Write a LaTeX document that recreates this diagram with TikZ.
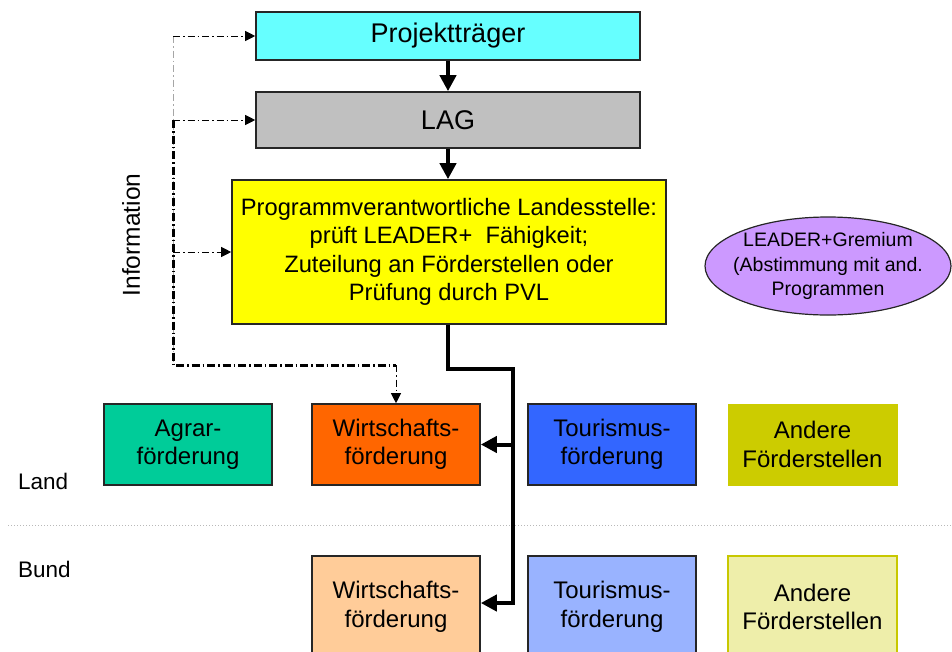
\documentclass[tikz,border=0pt]{standalone}
\usepackage{fontspec}
\setmainfont{Liberation Sans}
\usetikzlibrary{arrows.meta,shapes.geometric}
\definecolor{cProj}{HTML}{66FFFF}
\definecolor{cLag}{HTML}{C0C0C0}
\definecolor{cPvl}{HTML}{FFFF00}
\definecolor{cEll}{HTML}{CC99FF}
\definecolor{cAgrar}{HTML}{00CC99}
\definecolor{cWirt}{HTML}{FF6600}
\definecolor{cTour}{HTML}{3366FF}
\definecolor{cAnd}{HTML}{CCCC00}
\definecolor{cWirtB}{HTML}{FFCC99}
\definecolor{cTourB}{HTML}{99B3FF}
\definecolor{cAndB}{HTML}{EEEEAA}
\definecolor{cAndBd}{HTML}{C8C800}
\tikzset{
  boxtext/.style={font=\fontsize{24}{28.5}\selectfont, align=center, text=black},
  bigtext/.style={font=\fontsize{27}{30}\selectfont},
  box/.style={boxtext, draw=black!85, line width=1.6pt, rectangle, inner sep=0pt},
  lbl/.style={font=\fontsize{22.5}{26}\selectfont, text=black, inner sep=0pt},
  thickarrow/.style={line width=4pt, -{Triangle[length=16pt,width=16pt]}},
  thickline/.style={line width=4pt},
  infoarrow/.style={black, line width=0.9pt, dash pattern=on 7pt off 3pt on 1.5pt off 3pt, -{Triangle[length=10pt,width=10pt]}},
  infothin/.style={gray!70, line width=0.9pt, dash pattern=on 7pt off 3pt on 1.5pt off 3pt},
  infothick/.style={black, line width=3pt, dash pattern=on 8pt off 3pt on 1.5pt off 3pt},
}
\begin{document}
\begin{tikzpicture}[x=1pt,y=-1pt]
\useasboundingbox (0,0) rectangle (952,651);
\clip (0,0) rectangle (952,651);

% top chain
\node[box, bigtext, fill=cProj, minimum width=384pt, minimum height=48pt] (proj) at (448,36) {Projektträger};
\node[box, bigtext, fill=cLag, minimum width=384pt, minimum height=56pt] (lag) at (448,120) {LAG};
\node[box, font=\fontsize{23.7}{28.5}\selectfont, fill=cPvl, minimum width=434pt, minimum height=144pt] (pvl) at (449,252)
  {Programmverantwortliche Landesstelle:\\prüft LEADER+\ \ Fähigkeit;\\Zuteilung an Förderstellen oder\\Prüfung durch PVL};

% ellipse
\node[ellipse, draw=black!85, line width=1.2pt, fill=cEll, minimum width=246pt, minimum height=98pt, inner sep=0pt] (ell) at (828,266) {};
\node[align=center, font=\fontsize{19.5}{24.5}\selectfont, inner sep=0pt] (elltext) at (ell.center)
  {LEADER+Gremium\\(Abstimmung mit and.\\Programmen};

% Land row
\node[box, fill=cAgrar, minimum width=168pt, minimum height=81pt] (agrar) at (188,444.5) {Agrar-\\förderung};
\node[box, fill=cWirt, minimum width=168pt, minimum height=81pt] (wirt) at (396,444.5) {Wirtschafts-\\förderung};
\node[box, fill=cTour, minimum width=168pt, minimum height=81pt] (tour) at (612,444.5) {Tourismus-\\förderung};
\node[box, draw=cAnd, fill=cAnd, line width=0.8pt, minimum width=169pt, minimum height=81pt] (and) at (812.5,444.5) {Andere\\Förderstellen};

% Bund row
\node[box, fill=cWirtB, minimum width=168pt, minimum height=102pt] (wirtB) at (396,607) {Wirtschafts-\\förderung};
\node[box, fill=cTourB, minimum width=168pt, minimum height=102pt] (tourB) at (612,607) {Tourismus-\\förderung};
\node[box, draw=cAndBd, fill=cAndB, minimum width=169pt, minimum height=102pt] (andB) at (812.5,607) {Andere\\Förderstellen};

% labels
\node[lbl, anchor=west] (land) at (18,481) {Land};
\node[lbl, anchor=west] (bund) at (18,569) {Bund};
\node[lbl, font=\fontsize{24.5}{28}\selectfont, rotate=90] (info) at (131,235) {Information};

% separator
\draw[gray!55, line width=1pt, dotted] (8,525) -- (952,525);

% thick flow
\draw[thickarrow] (proj.south) -- (lag.north);
\draw[thickarrow] (lag.south) -- (pvl.north -| lag.south);
\coordinate (t1) at (448,369);
\coordinate (t2) at (513,369);
\coordinate (t3) at (513,444.5);
\coordinate (t4) at (513,603);
\draw[thickline, line join=miter] ([xshift=-1pt]pvl.south) -- (t1) -- (t2) -- (t4) -- ++(-18,0);
\draw[thickarrow] (t3) -- (wirt.east);
\draw[thickarrow] (t4) -- (wirtB.east |- t4);

% information lines
\coordinate (i1) at (173,36);
\coordinate (i2) at (173,120);
\coordinate (i3) at (173,252);
\coordinate (i4) at (173,365);
\coordinate (i5) at (396,365);
\draw[infothin] (i1) -- (i4);
\draw[infothick] (i2) -- (i4) -- (i5);
\draw[infoarrow] (i1) -- (proj.west);
\draw[infoarrow] (i2) -- (lag.west);
\draw[infoarrow] (i3) -- (pvl.west);
\draw[infoarrow] (i5) -- (wirt.north);
\end{tikzpicture}
\end{document}
